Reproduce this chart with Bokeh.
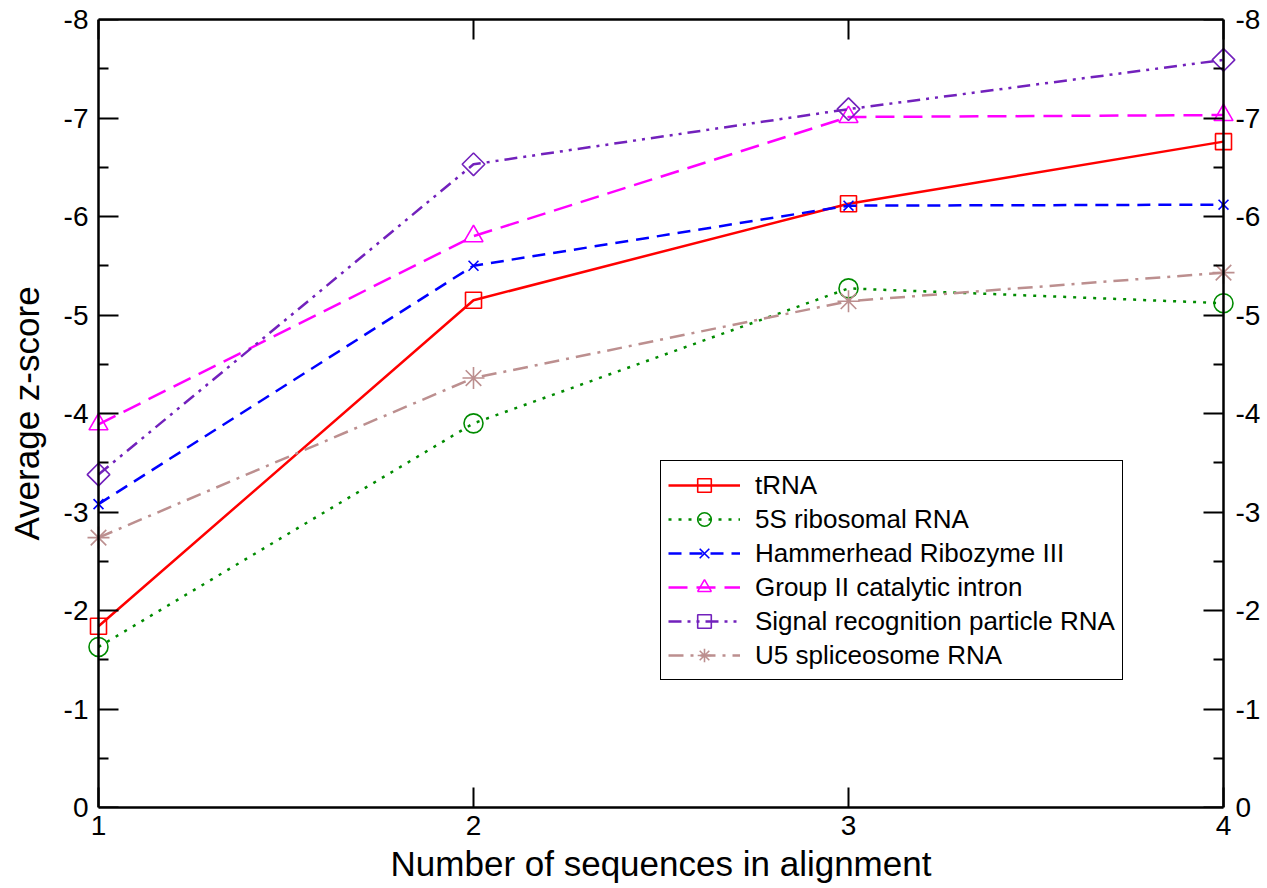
import math

from bokeh.plotting import figure
from bokeh.models import Range1d, LinearAxis, FixedTicker, Legend, LegendItem
from bokeh.embed import file_html
from bokeh.resources import INLINE

# Average z-score per number of aligned sequences, one list per RNA family
seq_counts = [1, 2, 3, 4]
trna = [-1.84, -5.15, -6.13, -6.76]
rrna_5s = [-1.63, -3.90, -5.27, -5.12]
hammerhead = [-3.08, -5.50, -6.11, -6.12]
group_ii = [-3.89, -5.80, -7.01, -7.03]
srp_rna = [-3.38, -6.53, -7.09, -7.59]
u5_rna = [-2.74, -4.36, -5.14, -5.43]

series_names = [
    "tRNA",
    "5S ribosomal RNA",
    "Hammerhead Ribozyme III",
    "Group II catalytic intron",
    "Signal recognition particle RNA",
    "U5 spliceosome RNA",
]

y_ticks = [0, -1, -2, -3, -4, -5, -6, -7, -8]
y_tick_labels = ["0", "-1", "-2", "-3", "-4", "-5", "-6", "-7", "-8"]
y_minor_ticks = [-0.5, -1.5, -2.5, -3.5, -4.5, -5.5, -6.5, -7.5]
x_tick_labels = ["1", "2", "3", "4"]

FONT = "Liberation Sans"

# The x extent of the frame is widened a little beyond the axes so that the
# markers sitting on the left and right axes are drawn whole.
X_MIN, X_MAX = 1, 4
Y_LOW, Y_HIGH = 0, -8
AXES_W = 1125                     # pixel width of the axes box
PAD = 14                          # extra frame on the left and right, px
dx = PAD * (X_MAX - X_MIN) / AXES_W

p = figure(
    width=1267, height=888,
    output_backend="svg", toolbar_location=None,
    x_range=Range1d(X_MIN - dx, X_MAX + dx),
    y_range=Range1d(Y_LOW, Y_HIGH),
    x_axis_label="Number of sequences in alignment",
    y_axis_label="Average z-score",
    min_border_left=98 - PAD, min_border_right=44 - PAD,
    min_border_top=19, min_border_bottom=81,
)
p.outline_line_color = None
p.grid.visible = False
p.background_fill_color = "white"
p.border_fill_color = "white"


def style_lines(ax, major_in, minor_in, show_line=True):
    ax.axis_line_color = "black" if show_line else None
    ax.axis_line_width = 2.5
    ax.major_tick_in = major_in
    ax.major_tick_out = 0
    ax.minor_tick_in = minor_in
    ax.minor_tick_out = 0
    ax.major_tick_line_width = 2
    ax.minor_tick_line_width = 2
    ax.major_tick_line_color = "black"
    ax.minor_tick_line_color = "black"


def style_text(ax):
    ax.major_label_text_font = FONT
    ax.major_label_text_font_size = "28px"
    ax.major_label_text_color = "black"
    ax.axis_label_text_font = FONT
    ax.axis_label_text_font_size = "35px"
    ax.axis_label_text_font_style = "normal"
    ax.axis_label_text_color = "black"


def text_only(ax):
    ax.axis_line_color = None
    ax.major_tick_line_color = None
    ax.minor_tick_line_color = None
    ax.major_tick_out = 0
    ax.minor_tick_out = 0


x_label_map = {x: s for x, s in zip(seq_counts, x_tick_labels)}
y_label_map = {y: s for y, s in zip(y_ticks, y_tick_labels)}

# bottom axis: line, inward ticks and labels
xax = p.xaxis[0]
xax.ticker = FixedTicker(ticks=seq_counts)
xax.major_label_overrides = x_label_map
xax.bounds = (X_MIN, X_MAX)
style_lines(xax, 20, 0)
style_text(xax)
xax.major_label_standoff = 8
xax.axis_label_standoff = 6

# top axis: line and inward ticks only
top_ax = LinearAxis(ticker=FixedTicker(ticks=[], minor_ticks=seq_counts),
                    bounds=(X_MIN, X_MAX))
style_lines(top_ax, 0, 20)
p.add_layout(top_ax, "above")

# left side: labels and title at the frame edge, line and ticks on x = 1
yax = p.yaxis[0]
yax.ticker = FixedTicker(ticks=y_ticks)
yax.major_label_overrides = y_label_map
style_text(yax)
text_only(yax)
yax.major_label_standoff = -PAD + 10
yax.axis_label_standoff = 15

# right side: labels at the frame edge, line and ticks on x = 4
right_lbl = LinearAxis(ticker=FixedTicker(ticks=y_ticks),
                       major_label_overrides=y_label_map)
style_text(right_lbl)
text_only(right_lbl)
right_lbl.major_label_standoff = -PAD + 12
p.add_layout(right_lbl, "right")

for side, xloc in (("left", X_MIN), ("right", X_MAX)):
    whole = LinearAxis(ticker=FixedTicker(ticks=[], minor_ticks=y_ticks),
                       fixed_location=xloc, bounds=(Y_HIGH, Y_LOW))
    style_lines(whole, 0, 20)
    p.add_layout(whole, side)
    half = LinearAxis(ticker=FixedTicker(ticks=[], minor_ticks=y_minor_ticks),
                      fixed_location=xloc, bounds=(Y_HIGH, Y_LOW))
    style_lines(half, 0, 10, show_line=False)
    p.add_layout(half, side)

# (values, colour, dash, marker, size, angle)
styles = [
    (trna, "#ff0000", "solid", "square", 16, 0.0),
    (rrna_5s, "#008b00", "3 7", "circle", 19, 0.0),
    (hammerhead, "#0000ff", "13 8", "x", 14, 0.0),
    (group_ii, "#ff00ff", "19 9", "triangle", 19, 0.0),
    (srp_rna, "#7221bc", "13 6 3 6 3 6", "square", 16, math.pi / 4),
    (u5_rna, "#bc8f8f", "15 7 3 7", "asterisk", 22, 0.0),
]

items = []
for name, (vals, color, dash, marker, size, angle) in zip(series_names, styles):
    ln = p.line(seq_counts, vals, line_color=color, line_width=2.5, line_dash=dash)
    sc = p.scatter(seq_counts, vals, marker=marker, size=size, angle=angle,
                   fill_color=None, line_color=color, line_width=1.6)
    items.append(LegendItem(label=name, renderers=[ln, sc]))

legend = Legend(
    items=items,
    location=(660 - (98 - PAD), 807 - 680),
    orientation="vertical",
    label_text_font=FONT,
    label_text_font_size="26px",
    label_text_color="black",
    glyph_width=72,
    glyph_height=34,
    label_height=34,
    label_standoff=15,
    spacing=0,
    padding=7,
    margin=0,
    border_line_color="black",
    border_line_width=1.5,
    border_line_alpha=1.0,
    background_fill_color="white",
    background_fill_alpha=1.0,
)
p.add_layout(legend)

open("out.html", "w").write(file_html(p, INLINE))
